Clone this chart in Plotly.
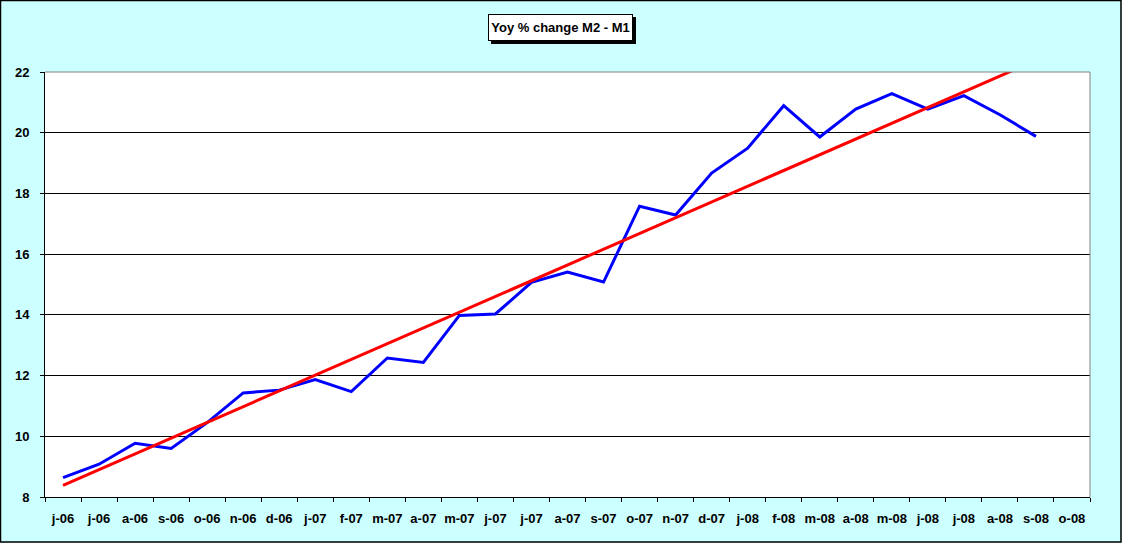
import numpy as np
import plotly.graph_objects as go

# Month labels on the x axis (Jun 2006 .. Oct 2008), one slot per month.
month_labels = ['j-06', 'j-06', 'a-06', 's-06', 'o-06', 'n-06', 'd-06',
                'j-07', 'f-07', 'm-07', 'a-07', 'm-07', 'j-07', 'j-07',
                'a-07', 's-07', 'o-07', 'n-07', 'd-07', 'j-08', 'f-08',
                'm-08', 'a-08', 'm-08', 'j-08', 'j-08', 'a-08', 's-08', 'o-08']

# Yoy % change of M2 - M1, Jun 2006 .. Sep 2008
yoy_change = [8.64, 9.08, 9.77, 9.60, 10.45, 11.43, 11.52, 11.87, 11.47,
              12.58, 12.43, 13.98, 14.03, 15.07, 15.41, 15.08, 17.58, 17.29,
              18.67, 19.49, 20.89, 19.86, 20.78, 21.29, 20.78, 21.22, 20.59,
              19.88]

y_ticks = [8, 10, 12, 14, 16, 18, 20, 22]

x = list(range(len(yoy_change)))

# Linear trend line, like the Excel one
slope, intercept = np.polyfit(x, yoy_change, 1)
trend = [slope * i + intercept for i in x]

font = dict(family='Liberation Sans, Arial, sans-serif', size=13,
            color='black', weight='bold')

fig = go.Figure()
fig.add_trace(go.Scatter(x=x, y=yoy_change, mode='lines',
                         line=dict(color='#0000FF', width=3)))
fig.add_trace(go.Scatter(x=x, y=trend, mode='lines',
                         line=dict(color='#FF0000', width=3)))

# plot area is 1045 x 425 px
fig.update_layout(
    width=1122, height=543,
    margin=dict(l=45, r=32, t=72, b=46),
    paper_bgcolor='#CCFFFF',
    plot_bgcolor='white',
    showlegend=False,
    font=font,
)

fig.update_xaxes(
    range=[-0.5, len(month_labels) - 0.5],
    tickvals=list(range(len(month_labels))),
    ticktext=month_labels,
    ticks='', showgrid=False, zeroline=False,
    showline=True, linecolor='black', linewidth=1,
    tickfont=font, ticklabelstandoff=9,
    minor=dict(tick0=0.5, dtick=1, ticks='outside', ticklen=4,
               tickcolor='black', showgrid=False),
)
fig.update_yaxes(
    range=[8, 22], tickvals=y_ticks,
    ticks='outside', ticklen=4, tickcolor='black',
    showgrid=True, gridcolor='black', gridwidth=1, zeroline=False,
    showline=True, linecolor='black', linewidth=1,
    tickfont=font, ticklabelstandoff=8,
)

# gray top and right border of the plot area
fig.add_shape(type='line', xref='paper', yref='paper', x0=0, x1=1, y0=1, y1=1,
              line=dict(color='#808080', width=1), layer='above')
fig.add_shape(type='line', xref='paper', yref='paper', x0=1, x1=1, y0=0, y1=1,
              line=dict(color='#808080', width=1), layer='above')

# black frame round the whole chart
fig.add_shape(type='rect', xref='paper', yref='paper',
              x0=-44.5 / 1045, x1=1076 / 1045, y0=-45 / 425, y1=1 + 71.5 / 425,
              line=dict(color='black', width=1.5))

# title box with a drop shadow
fig.add_shape(type='rect', xref='paper', yref='paper',
              x0=(491 - 45) / 1045, x1=(636 - 45) / 1045,
              y0=(497 - 44) / 425, y1=(497 - 17) / 425,
              fillcolor='black', line=dict(color='black', width=0))
fig.add_annotation(text='Yoy % change M2 - M1', xref='paper', yref='paper',
                   x=(560.5 - 45) / 1045, y=(497 - 27.5) / 425,
                   xanchor='center', yanchor='middle',
                   showarrow=False, font=font,
                   width=139, height=21,
                   bgcolor='white', bordercolor='black',
                   borderwidth=1, borderpad=2)

fig.write_html('out.html', config={'displayModeBar': False},
               post_script="document.body.style.margin='0';")
